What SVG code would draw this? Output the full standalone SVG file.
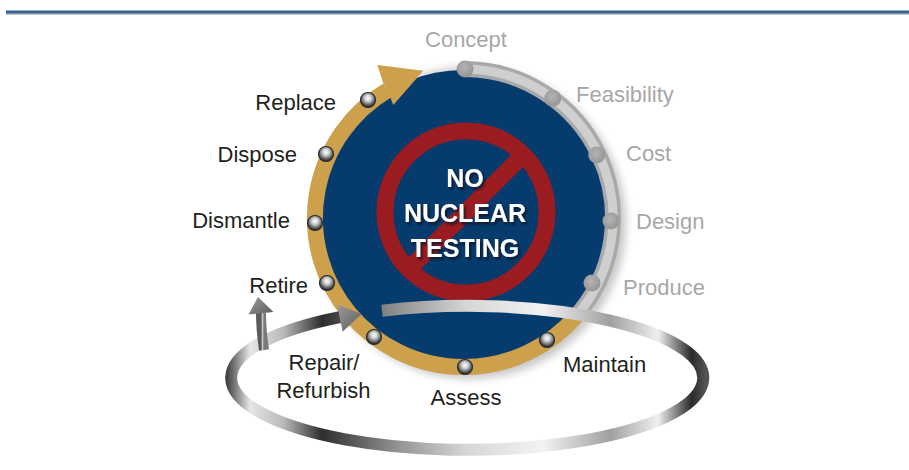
<svg xmlns="http://www.w3.org/2000/svg" width="909" height="470" viewBox="0 0 909 470">
<defs>
<style>
.lbl{font-family:"Liberation Sans",Arial,sans-serif;font-size:22px}
.dk{fill:#231f20}
.lt{fill:#a7a7a8}
.ctr{font-family:"Liberation Sans",Arial,sans-serif;font-size:25px;font-weight:bold;text-anchor:middle;fill:#ffffff}
.bead{fill:url(#beadG);stroke:#2b2b2b;stroke-width:1.2}
.dot{fill:url(#dotG)}
</style>
<radialGradient id="beadG" cx="50%" cy="38%" r="60%">
<stop offset="0" stop-color="#ffffff"/>
<stop offset="0.35" stop-color="#cfd0d1"/>
<stop offset="0.7" stop-color="#6d6e70"/>
<stop offset="1" stop-color="#1e1e1e"/>
</radialGradient>
<radialGradient id="dotG" cx="45%" cy="40%" r="60%">
<stop offset="0" stop-color="#b4b4b5"/>
<stop offset="1" stop-color="#959596"/>
</radialGradient>
<linearGradient id="bandG" gradientUnits="userSpaceOnUse" x1="226" y1="0" x2="706" y2="0">
<stop offset="0" stop-color="#3a3a3a"/>
<stop offset="0.05" stop-color="#e6e6e6"/>
<stop offset="0.12" stop-color="#b9b9b9"/>
<stop offset="0.2" stop-color="#2e2e2e"/>
<stop offset="0.35" stop-color="#8f8f8f"/>
<stop offset="0.5" stop-color="#d6d6d6"/>
<stop offset="0.66" stop-color="#f3f3f3"/>
<stop offset="0.8" stop-color="#a0a0a0"/>
<stop offset="0.9" stop-color="#efefef"/>
<stop offset="0.97" stop-color="#2a2a2a"/>
<stop offset="1" stop-color="#555555"/>
</linearGradient>
<linearGradient id="stemG" x1="0" y1="0" x2="1" y2="0">
<stop offset="0" stop-color="#5a5a5a"/>
<stop offset="0.5" stop-color="#c8c8c8"/>
<stop offset="1" stop-color="#7a7a7a"/>
</linearGradient>
<linearGradient id="headG" x1="0" y1="0" x2="1" y2="1">
<stop offset="0" stop-color="#9a9a9a"/>
<stop offset="1" stop-color="#5e5e5e"/>
</linearGradient>
<filter id="soft" x="-20%" y="-20%" width="140%" height="140%">
<feGaussianBlur stdDeviation="4"/>
</filter>
<filter id="tsh" x="-20%" y="-20%" width="140%" height="140%">
<feDropShadow dx="2" dy="2.5" stdDeviation="1.2" flood-color="#0b1526" flood-opacity="0.9"/>
</filter>
</defs>

<g id="top-rule">
<line x1="6" y1="14" x2="909" y2="14" stroke="#9aa3ad" stroke-width="2" opacity="0.6"/>
<line x1="6" y1="12" x2="909" y2="12" stroke="#34618f" stroke-width="3"/>
</g>

<g id="disc">
<circle cx="470" cy="223" r="156" fill="#000" opacity="0.22" filter="url(#soft)"/>
<circle cx="464" cy="218" r="148" fill="#063b6e"/>
<path d="M464 69 A149 149 0 0 1 576.5 315.7" fill="none" stroke="#a9a9aa" stroke-width="16"/>
<path d="M464 69 A149 149 0 0 1 576.5 315.7" fill="none" stroke="#cfcfd0" stroke-width="9"/>
<path d="M576.5 315.7 A149 149 0 1 1 387.3 90.3" fill="none" stroke="#cda04b" stroke-width="16"/>
<polygon points="423.3,70.7 377.3,65 383.3,83.3 390,96.7 393.3,105" fill="#cda04b"/>
</g>

<g id="no-testing">
<circle cx="466" cy="212" r="81" fill="none" stroke="#9a1b20" stroke-width="17"/>
<line x1="524" y1="154" x2="408" y2="270" stroke="#9a1b20" stroke-width="17"/>
<g filter="url(#tsh)">
<text class="ctr" x="465" y="187">NO</text>
<text class="ctr" x="465" y="222">NUCLEAR</text>
<text class="ctr" x="465" y="257">TESTING</text>
</g>
</g>

<g id="connectors">
<path d="M382 310.7 A236 72 0 1 1 340 317.2" fill="none" stroke="url(#bandG)" stroke-width="12"/>
<polygon points="361.6,313.9 337.3,304.4 342.7,331.8" fill="url(#headG)"/>
<path d="M264 350 C262 336 261 326 261 313" fill="none" stroke="url(#stemG)" stroke-width="10"/>
<polygon points="258,297 248.5,314.5 273.5,312" fill="url(#headG)"/>
</g>

<g id="concept"><circle class="dot" cx="465" cy="69" r="8.5"/><text class="lbl lt" x="466" y="47" text-anchor="middle">Concept</text></g>
<g id="feasibility"><circle class="dot" cx="552.7" cy="98.3" r="8.5"/><text class="lbl lt" x="576" y="102">Feasibility</text></g>
<g id="cost"><circle class="dot" cx="596.7" cy="155" r="8.5"/><text class="lbl lt" x="626" y="161">Cost</text></g>
<g id="design"><circle class="dot" cx="611" cy="221" r="8.5"/><text class="lbl lt" x="636" y="229">Design</text></g>
<g id="produce"><circle class="dot" cx="592" cy="283" r="8.5"/><text class="lbl lt" x="623" y="295">Produce</text></g>
<g id="maintain"><circle class="bead" cx="547" cy="340" r="7.5"/><text class="lbl dk" x="563" y="372">Maintain</text></g>
<g id="assess"><circle class="bead" cx="465" cy="367" r="7.5"/><text class="lbl dk" x="466" y="405" text-anchor="middle">Assess</text></g>
<g id="repair"><circle class="bead" cx="374" cy="337" r="7.5"/><text class="lbl dk" x="324" y="370" text-anchor="middle">Repair/</text><text class="lbl dk" x="323.5" y="398" text-anchor="middle">Refurbish</text></g>
<g id="retire"><circle class="bead" cx="327" cy="283" r="7.5"/><text class="lbl dk" x="308" y="293" text-anchor="end">Retire</text></g>
<g id="dismantle"><circle class="bead" cx="315" cy="223" r="7.5"/><text class="lbl dk" x="290" y="228" text-anchor="end">Dismantle</text></g>
<g id="dispose"><circle class="bead" cx="326" cy="154" r="7.5"/><text class="lbl dk" x="297" y="162" text-anchor="end">Dispose</text></g>
<g id="replace"><circle class="bead" cx="368" cy="100" r="7.5"/><text class="lbl dk" x="336" y="110" text-anchor="end">Replace</text></g>
</svg>
